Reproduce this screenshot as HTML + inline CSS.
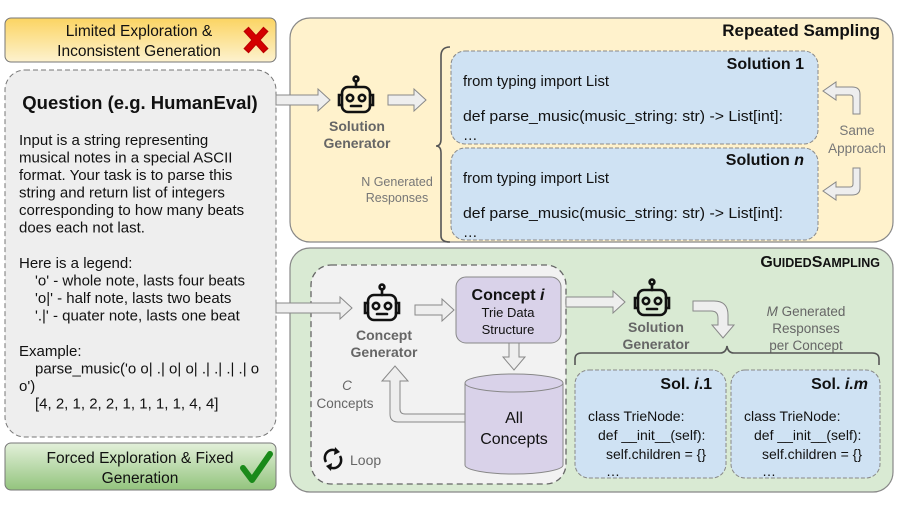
<!DOCTYPE html>
<html><head><meta charset="utf-8"><style>
html,body{margin:0;padding:0;background:#fff;}
svg{display:block;font-family:"Liberation Sans",Arial,sans-serif;}
</style></head><body>
<svg width="897" height="505" viewBox="0 0 897 505" xmlns="http://www.w3.org/2000/svg">
<defs>
<linearGradient id="gy" x1="0" y1="0" x2="0" y2="1"><stop offset="0" stop-color="#fbd462"/><stop offset="1" stop-color="#fdf2cf"/></linearGradient>
<linearGradient id="gg" x1="0" y1="0" x2="0" y2="1"><stop offset="0" stop-color="#e3f0da"/><stop offset="1" stop-color="#93c47d"/></linearGradient>
<g id="robot" fill="none" stroke="#111" stroke-width="2.6" stroke-linecap="round">
<rect x="-14" y="-11" width="28" height="25" rx="6"/>
<line x1="0" y1="-11" x2="0" y2="-17"/><circle cx="0" cy="-19" r="2.4"/>
<path d="M-14,-3 h-3 v10 h3 M14,-3 h3 v10 h-3"/>
<circle cx="-6" cy="0" r="3.2"/><circle cx="6" cy="0" r="3.2"/>
<line x1="-5" y1="8" x2="5" y2="8"/>
</g>
</defs>
<!-- left column -->
<rect x="5" y="18" width="271" height="44" rx="6" fill="url(#gy)" stroke="#777" stroke-width="1"/>
<text x="139" y="36" font-size="15.5" text-anchor="middle" fill="#111">Limited Exploration &amp;</text>
<text x="139" y="56" font-size="15.5" text-anchor="middle" fill="#111">Inconsistent Generation</text>
<g stroke="#b00" stroke-width="7" stroke-linecap="butt"><line x1="246" y1="29" x2="266" y2="51"/><line x1="266" y1="29" x2="246" y2="51"/></g>
<g stroke="#d40000" stroke-width="5"><line x1="247" y1="30" x2="265" y2="50"/><line x1="265" y1="30" x2="247" y2="50"/></g>

<rect x="5" y="70" width="271" height="367" rx="20" fill="#eeeeee" stroke="#777" stroke-width="1" stroke-dasharray="5,3"/>
<text x="140" y="109" font-size="18.5" font-weight="bold" text-anchor="middle" fill="#111">Question (e.g. HumanEval)</text>
<g font-size="15" fill="#111">
<text x="19" y="145">Input is a string representing</text>
<text x="19" y="162.5">musical notes in a special ASCII</text>
<text x="19" y="180">format. Your task is to parse this</text>
<text x="19" y="197.5">string and return list of integers</text>
<text x="19" y="215">corresponding to how many beats</text>
<text x="19" y="232.5">does each not last.</text>
<text x="19" y="268">Here is a legend:</text>
<text x="35" y="285.5">'o' - whole note, lasts four beats</text>
<text x="35" y="303">'o|' - half note, lasts two beats</text>
<text x="35" y="320.5">'.|' - quater note, lasts one beat</text>
<text x="19" y="356">Example:</text>
<text x="35" y="373.5">parse_music('o o| .| o| o| .| .| .| .| o</text>
<text x="19" y="391">o')</text>
<text x="35" y="408.5">[4, 2, 1, 2, 2, 1, 1, 1, 1, 4, 4]</text>
</g>

<rect x="5" y="443" width="271" height="47" rx="6" fill="url(#gg)" stroke="#777" stroke-width="1"/>
<text x="140" y="463" font-size="15.5" text-anchor="middle" fill="#111">Forced Exploration &amp; Fixed</text>
<text x="140" y="483" font-size="15.5" text-anchor="middle" fill="#111">Generation</text>
<path d="M243,468 L252,480 L270,454" fill="none" stroke="#1a8a1a" stroke-width="6" stroke-linecap="round" stroke-linejoin="round"/>

<!-- Repeated sampling panel -->
<rect x="290" y="18" width="603" height="224" rx="20" fill="#fff2cc" stroke="#888" stroke-width="1.2"/>
<text x="880" y="36" font-size="17" font-weight="bold" text-anchor="end" fill="#111">Repeated Sampling</text>
<path d="M276,95 H318 V89 L330,100 L318,111 V105 H276 Z" fill="#eeeeee" stroke="#888" stroke-width="1"/>
<use href="#robot" x="356" y="98"/>
<text x="357" y="131" font-size="14" font-weight="bold" text-anchor="middle" fill="#666">Solution</text>
<text x="357" y="148" font-size="14" font-weight="bold" text-anchor="middle" fill="#666">Generator</text>
<path d="M388,95 H414 V89 L426,100 L414,111 V105 H388 Z" fill="#eeeeee" stroke="#888" stroke-width="1"/>
<text x="397" y="186" font-size="12.5" text-anchor="middle" fill="#777">N Generated</text>
<text x="397" y="202" font-size="12.5" text-anchor="middle" fill="#777">Responses</text>
<path d="M450,47 Q441,47 441,56 V139 Q441,146 436,146 Q441,146 441,153 V236 Q441,242 450,242" fill="none" stroke="#555" stroke-width="1.6"/>
<rect x="451" y="51" width="367" height="93" rx="14" fill="#cfe2f3" stroke="#888" stroke-width="1" stroke-dasharray="4,2"/>
<rect x="451" y="148" width="367" height="92" rx="14" fill="#cfe2f3" stroke="#888" stroke-width="1" stroke-dasharray="4,2"/>
<text x="804" y="69" font-size="16" font-weight="bold" text-anchor="end" fill="#111">Solution 1</text>
<text x="804" y="165" font-size="16" font-weight="bold" text-anchor="end" fill="#111">Solution <tspan font-style="italic">n</tspan></text>
<g font-size="14.5" fill="#111">
<text x="463" y="86" textLength="146" lengthAdjust="spacingAndGlyphs">from typing import List</text>
<text x="463" y="121" textLength="320" lengthAdjust="spacingAndGlyphs">def parse_music(music_string: str) -&gt; List[int]:</text>
<text x="463" y="140">…</text>
<text x="463" y="183" textLength="146" lengthAdjust="spacingAndGlyphs">from typing import List</text>
<text x="463" y="218" textLength="320" lengthAdjust="spacingAndGlyphs">def parse_music(music_string: str) -&gt; List[int]:</text>
<text x="463" y="237">…</text>
</g>
<path d="M860,114 V94 Q860,87 852,87 H836 V82 L823,91 L836,100 V95 H850 Q853,95 853,98 V114 Z" fill="#eeeeee" stroke="#888" stroke-width="1"/>
<path d="M860,168 V188 Q860,195 852,195 H836 V200 L823,191 L836,182 V187 H850 Q853,187 853,184 V168 Z" fill="#eeeeee" stroke="#888" stroke-width="1"/>
<text x="857" y="135" font-size="13.5" text-anchor="middle" fill="#777">Same</text>
<text x="857" y="153" font-size="13.5" text-anchor="middle" fill="#777">Approach</text>

<!-- Guided sampling panel -->
<rect x="290" y="248" width="603" height="244" rx="20" fill="#d9ead3" stroke="#888" stroke-width="1.2"/>
<text x="880" y="267" font-size="16" font-weight="bold" text-anchor="end" fill="#111">G<tspan font-size="12.5">UIDED</tspan>S<tspan font-size="12.5">AMPLING</tspan></text>
<rect x="311" y="265" width="255" height="219" rx="20" fill="#f2f2f2" stroke="#666" stroke-width="1.3" stroke-dasharray="6,4"/>
<path d="M276,303 H340 V297 L352,308 L340,319 V313 H276 Z" fill="#eeeeee" stroke="#888" stroke-width="1"/>
<use href="#robot" x="382" y="306"/>
<text x="384" y="340" font-size="14" font-weight="bold" text-anchor="middle" fill="#666">Concept</text>
<text x="384" y="357" font-size="14" font-weight="bold" text-anchor="middle" fill="#666">Generator</text>
<path d="M415,305 H442 V299 L454,310 L442,321 V315 H415 Z" fill="#eeeeee" stroke="#888" stroke-width="1"/>
<rect x="456" y="277" width="105" height="66" rx="10" fill="#d9d2e9" stroke="#888" stroke-width="1"/>
<text x="508" y="300" font-size="16" font-weight="bold" text-anchor="middle" fill="#111">Concept <tspan font-style="italic">i</tspan></text>
<text x="508" y="317" font-size="13" text-anchor="middle" fill="#111">Trie Data</text>
<text x="508" y="334" font-size="13" text-anchor="middle" fill="#111">Structure</text>
<path d="M509,343 V357 H503 L514,370 L525,357 H519 V343 Z" fill="#eeeeee" stroke="#888" stroke-width="1"/>
<path d="M465,383 V465 A49,9 0 0 0 563,465 V383" fill="#d9d2e9" stroke="#888" stroke-width="1"/>
<ellipse cx="514" cy="383" rx="49" ry="9" fill="#d9d2e9" stroke="#888" stroke-width="1"/>
<text x="514" y="423" font-size="16" text-anchor="middle" fill="#111">All</text>
<text x="514" y="444" font-size="16" text-anchor="middle" fill="#111">Concepts</text>
<path d="M465,414 H405 Q400,414 400,409 V381 H408 L395,366 L382,381 H390 V414 Q390,422 398,422 H465 Z" fill="#eeeeee" stroke="#888" stroke-width="1"/>
<text x="347" y="390" font-size="13.5" font-style="italic" text-anchor="middle" fill="#666">C</text>
<text x="345" y="408" font-size="13.5" text-anchor="middle" fill="#666">Concepts</text>
<g fill="none" stroke="#111" stroke-width="2.5">
<path d="M326,462 A8,8 0 0 1 337,451"/><path d="M340,456 A8,8 0 0 1 329,467"/>
</g>
<path d="M335,447 L340,452 L334,455 Z M331,471 L326,466 L332,463 Z" fill="#111"/>
<text x="350" y="465" font-size="14" fill="#666">Loop</text>

<path d="M566,297 H613 V291 L625,302 L613,313 V307 H566 Z" fill="#eeeeee" stroke="#888" stroke-width="1"/>
<use href="#robot" x="652" y="301"/>
<text x="656" y="332" font-size="14" font-weight="bold" text-anchor="middle" fill="#666">Solution</text>
<text x="656" y="349" font-size="14" font-weight="bold" text-anchor="middle" fill="#666">Generator</text>
<path d="M693,301 H714 Q728,301 728,315 V325 H734 L723,338 L712,325 H718 V318 Q718,311 711,311 H693 Z" fill="#eeeeee" stroke="#888" stroke-width="1"/>
<text x="806" y="316" font-size="13.5" text-anchor="middle" fill="#666"><tspan font-style="italic">M</tspan> Generated</text>
<text x="806" y="333" font-size="13.5" text-anchor="middle" fill="#666">Responses</text>
<text x="806" y="350" font-size="13.5" text-anchor="middle" fill="#666">per Concept</text>
<path d="M575,365 V359 Q575,353 582,353 H720 Q726,353 727,346 Q728,353 734,353 H872 Q879,353 879,359 V365" fill="none" stroke="#555" stroke-width="1.6"/>
<rect x="575" y="370" width="151" height="108" rx="14" fill="#cfe2f3" stroke="#888" stroke-width="1" stroke-dasharray="4,2"/>
<rect x="731" y="370" width="149" height="108" rx="14" fill="#cfe2f3" stroke="#888" stroke-width="1" stroke-dasharray="4,2"/>
<text x="712" y="389" font-size="16" font-weight="bold" text-anchor="end" fill="#111">Sol. <tspan font-style="italic">i</tspan>.1</text>
<text x="868" y="389" font-size="16" font-weight="bold" text-anchor="end" fill="#111">Sol. <tspan font-style="italic">i.m</tspan></text>
<g font-size="14" fill="#111">
<text x="588" y="421">class TrieNode:</text>
<text x="598" y="440">def __init__(self):</text>
<text x="606" y="459">self.children = {}</text>
<text x="606" y="476">…</text>
<text x="744" y="421">class TrieNode:</text>
<text x="754" y="440">def __init__(self):</text>
<text x="762" y="459">self.children = {}</text>
<text x="762" y="476">…</text>
</g>
</svg>
</body></html>
